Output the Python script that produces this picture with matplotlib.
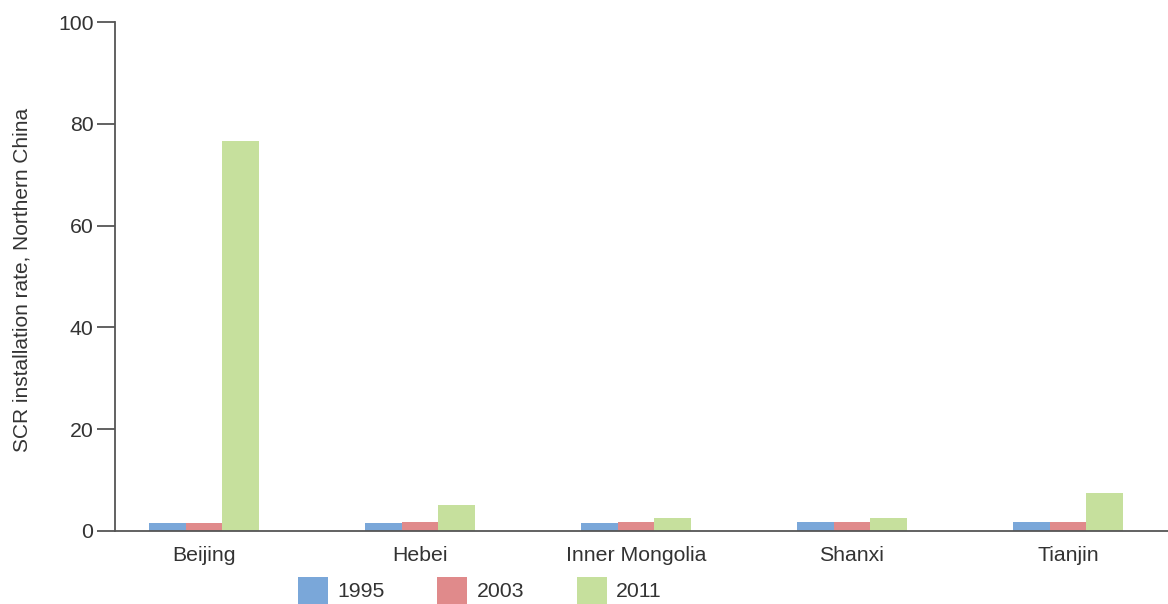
import matplotlib
matplotlib.use("Agg")
import matplotlib.pyplot as plt
import numpy as np

categories = ["Beijing", "Hebei", "Inner Mongolia", "Shanxi", "Tianjin"]
series_names = ["1995", "2003", "2011"]
values_1995 = [1.6, 1.6, 1.6, 1.7, 1.7]
values_2003 = [1.6, 1.7, 1.75, 1.75, 1.75]
values_2011 = [76.6, 5.2, 2.6, 2.6, 7.5]
yticks = [0, 20, 40, 60, 80, 100]

colors = ["#7aa7d9", "#e08a8b", "#c6e09d"]
text_color = "#333333"
axis_color = "#555555"

plt.rcParams["font.family"] = ["Liberation Sans", "DejaVu Sans"]

FS = 15.3
fs_px = FS * 100 / 72

fig = plt.figure(figsize=(11.68, 6.04), dpi=100)
ax = fig.add_axes([115 / 1168, 1 - 531 / 604, 1 - 115 / 1168, (531 - 22) / 604])

x = np.arange(len(categories))
w = 0.17
series = [values_1995, values_2003, values_2011]
handles = []
for i, (name, vals) in enumerate(zip(series_names, series)):
    b = ax.bar(x + (i - 1) * w, vals, width=w, color=colors[i], label=name, linewidth=0)
    handles.append(b)

ax.set_xlim(-0.412, 4.463)
ax.set_ylim(0, 100)
ax.set_yticks(yticks)
ax.set_yticklabels([str(t) for t in yticks])
ax.set_xticks(x)
ax.set_xticklabels(categories)

for s in ["top", "right"]:
    ax.spines[s].set_visible(False)
for s in ["left", "bottom"]:
    ax.spines[s].set_color(axis_color)
    ax.spines[s].set_linewidth(1.3)

ax.tick_params(axis="y", length=13, width=1.3, color=axis_color, pad=2.5,
               labelsize=FS, labelcolor=text_color)
ax.tick_params(axis="x", length=0, pad=10.5, labelsize=FS, labelcolor=text_color)

ax.set_ylabel("SCR installation rate, Northern China", fontsize=15.0, color=text_color)
ax.yaxis.set_label_coords(-0.079, 0.493)

hh = (27 / fs_px - 0.245) / 0.65
fig.legend(handles=handles, labels=series_names, loc="upper left",
           bbox_to_anchor=(298 / 1168, 1 - 577 / 604), ncol=3, frameon=False,
           fontsize=FS, labelcolor=text_color, handlelength=30 / fs_px, handleheight=hh,
           handletextpad=9 / fs_px, columnspacing=53 / fs_px, borderpad=0, borderaxespad=0)

fig.savefig("out.png", dpi=100)
